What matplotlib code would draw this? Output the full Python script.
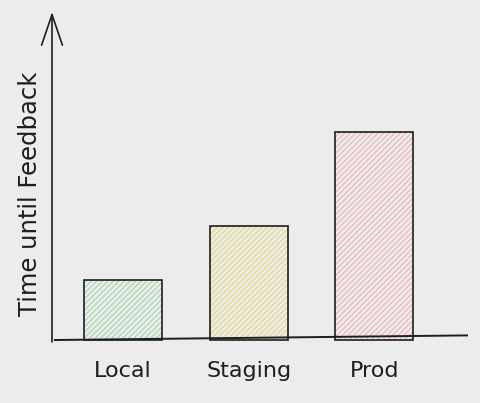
import matplotlib
matplotlib.use("Agg")
import matplotlib.pyplot as plt
from matplotlib.patches import FancyArrowPatch
from matplotlib.lines import Line2D

categories = ["Local", "Staging", "Prod"]
values = [60, 114, 208]
hatch_colors = ["#8fd6a0", "#e6d46a", "#f0a8a8"]
y_label = "Time until Feedback"

bg = "#ececec"
ink = "#1e1e1e"

plt.rcParams["hatch.linewidth"] = 0.7

fig = plt.figure(figsize=(4.8, 4.03), dpi=100, facecolor=bg)
ax = fig.add_axes([52/480, 61/403, 415/480, 330/403])
ax.set_facecolor(bg)

x = list(range(len(categories)))
ax.bar(x, values, width=0.62, color="none", edgecolor=hatch_colors,
       hatch="//////", linewidth=0, bottom=2)
ax.bar(x, values, width=0.62, color="none", edgecolor=ink, linewidth=1.2, bottom=2)

ax.set_xlim(-0.565, 2.737)
ax.set_ylim(0, 330)

for s in ax.spines.values():
    s.set_visible(False)
ax.set_yticks([])
ax.set_xticks(x)
ax.set_xticklabels(categories, fontsize=16, color=ink, family="DejaVu Sans")
ax.tick_params(axis="x", length=0, pad=14)

# baseline (slightly tilted, hand-drawn look)
ax.add_line(Line2D([0.007, 1.0], [0.006, 0.02], transform=ax.transAxes,
                   color=ink, linewidth=1.4, clip_on=False))

# vertical axis with open arrow head
arrow = FancyArrowPatch((0, 0.0), (0, 1.0), transform=ax.transAxes,
                        arrowstyle="->,head_length=22,head_width=7.5",
                        mutation_scale=1, color=ink, linewidth=1.2,
                        shrinkA=0, shrinkB=0, clip_on=False)
ax.add_patch(arrow)

fig.text(30/480, 1 - 194/403, y_label, rotation=90, ha="center", va="center",
         fontsize=17.5, color=ink, family="DejaVu Sans")

fig.savefig("out.png", dpi=100, facecolor=bg)
